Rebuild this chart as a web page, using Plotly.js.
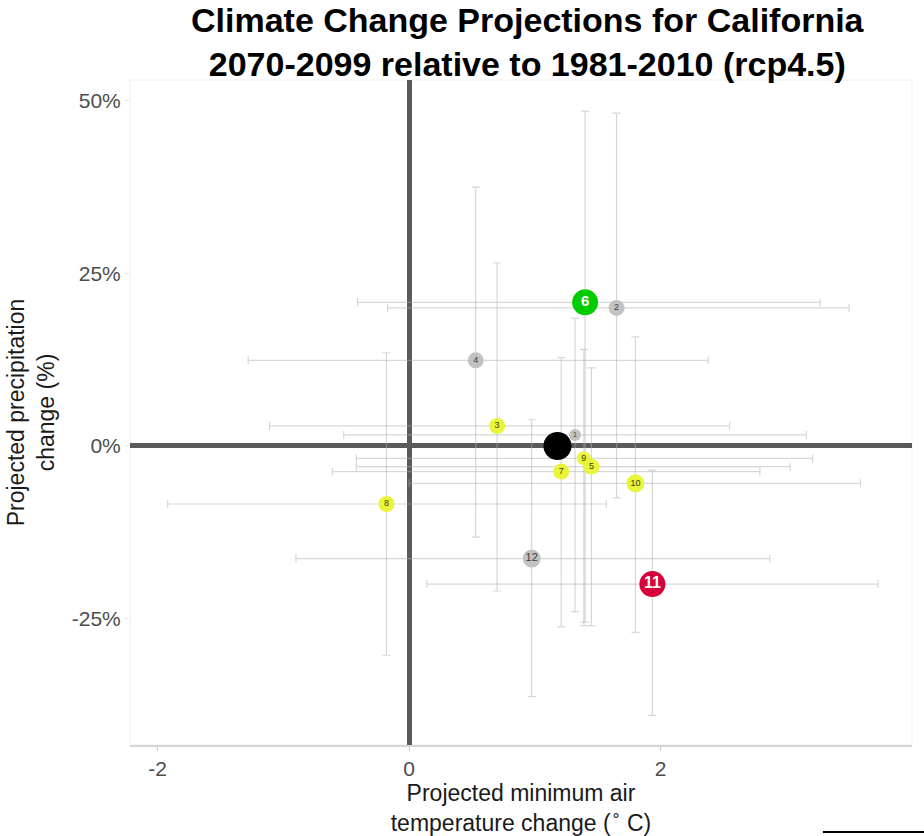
<!DOCTYPE html>
<html>
<head>
<meta charset="utf-8">
<script src="https://cdn.plot.ly/plotly-3.0.1.min.js"></script>
<style>
  html, body { margin: 0; padding: 0; background: #ffffff; }
  #chart { width: 924px; height: 836px; }
</style>
</head>
<body>
<div id="chart"></div>
<script>
// Model numbers shown inside each marker
const models = ['1', '2', '3', '4', '5', '6', '7', '8', '9', '10', '11', '12'];

// Projected change in minimum air temperature (°C), 2070-2099 vs 1981-2010
const tempChange = [1.32, 1.65, 0.70, 0.53, 1.45, 1.40, 1.21, -0.18, 1.39, 1.80, 1.935, 0.975];
const tempLow    = [-0.52, -0.17, -1.11, -1.28, -0.42, -0.41, -0.61, -1.92, -0.42, 0.00, 0.14, -0.90];
const tempHigh   = [3.16, 3.50, 2.55, 2.38, 3.03, 3.27, 2.79, 1.57, 3.21, 3.59, 3.73, 2.87];

// Projected change in precipitation (%)
const precipChange = [1.6, 20.0, 2.9, 12.4, -3.0, 20.8, -3.7, -8.4, -1.8, -5.4, -20.0, -16.3];
const precipLow    = [-24.0, -7.5, -21.0, -13.2, -26.0, -25.5, -26.2, -30.3, -26.0, -27.0, -39.0, -36.3];
const precipHigh   = [18.5, 48.2, 26.5, 37.5, 11.3, 48.5, 12.8, 13.5, 14.0, 15.8, -3.5, 3.8];

// Model group: 'wet' / 'dry' highlight, 'mid' agreeing models, 'other'
const modelGroup = ['other', 'other', 'mid', 'other', 'mid', 'wet', 'mid', 'mid', 'mid', 'mid', 'dry', 'other'];

// Multi-model ensemble mean
const ensembleTemp = [1.18];
const ensemblePrecip = [0.0];

// Axis ticks
const xTicks = [-2, 0, 2];
const yTicks = [-25, 0, 25, 50];
const yTickLabels = ['-25%', '0%', '25%', '50%'];

// Styling per group
const groupStyle = {
  wet:   { fill: '#00CC00', text: '#ffffff', size: 26, font: 15, bold: true },
  dry:   { fill: '#D6003A', text: '#ffffff', size: 26, font: 16, bold: true },
  mid:   { fill: '#E8F53A', text: '#3a3a00', size: 16, font: 9,  bold: false },
  other: { fill: '#C2C2C2', text: '#3c3c3c', size: 16, font: 9,  bold: false }
};
const sizeOverride = { '1': 12, '9': 14, '10': 18, '12': 18 };

const fills = modelGroup.map(g => groupStyle[g].fill);
const textColors = modelGroup.map(g => groupStyle[g].text);
const sizes = models.map((m, i) => sizeOverride[m] || groupStyle[modelGroup[i]].size);
const fontSizes = models.map((m, i) => m === '1' ? 7 : (m === '12' ? 11 : groupStyle[modelGroup[i]].font));
const labelTemplates = modelGroup.map(g => groupStyle[g].bold ? '<b>%{text}</b>' : '%{text}');

const barColor = 'rgba(175,175,175,0.5)';

// Ranges across ensemble members, drawn as cross-hair error bars
const rangeTrace = {
  type: 'scatter',
  mode: 'markers',
  x: tempChange,
  y: precipChange,
  marker: { size: 1, opacity: 0 },
  hoverinfo: 'skip',
  showlegend: false,
  error_x: {
    type: 'data', symmetric: false,
    array: tempHigh.map((h, i) => h - tempChange[i]),
    arrayminus: tempLow.map((l, i) => tempChange[i] - l),
    color: barColor, thickness: 1.2, width: 4
  },
  error_y: {
    type: 'data', symmetric: false,
    array: precipHigh.map((h, i) => h - precipChange[i]),
    arrayminus: precipLow.map((l, i) => precipChange[i] - l),
    color: barColor, thickness: 1.2, width: 4
  }
};

const modelTrace = {
  type: 'scatter',
  mode: 'markers+text',
  x: tempChange,
  y: precipChange,
  text: models,
  texttemplate: labelTemplates,
  textposition: 'middle center',
  textfont: { family: 'Liberation Sans, Arial, sans-serif', color: textColors, size: fontSizes },
  marker: { color: fills, size: sizes, opacity: 1, line: { width: 0 } },
  showlegend: false,
  hovertemplate: 'Model %{text}<br>%{x:.2f} °C, %{y:.1f}%<extra></extra>'
};

const ensembleTrace = {
  type: 'scatter',
  mode: 'markers',
  x: ensembleTemp,
  y: ensemblePrecip,
  marker: { color: '#000000', size: 28, opacity: 1, line: { width: 0 } },
  showlegend: false,
  hovertemplate: 'Ensemble mean<br>%{x:.2f} °C, %{y:.1f}%<extra></extra>'
};

const layout = {
  width: 924,
  height: 836,
  margin: { l: 130, r: 12, t: 80, b: 91 },
  paper_bgcolor: '#ffffff',
  plot_bgcolor: '#ffffff',
  font: { family: 'Liberation Sans, Arial, sans-serif', color: '#000000' },
  title: {
    text: '<b>Climate Change Projections for California<br>2070-2099 relative to 1981-2010 (rcp4.5)</b>',
    font: { size: 34, color: '#000000', family: 'Liberation Sans, Arial, sans-serif' },
    x: 0.508, xref: 'paper', xanchor: 'center',
    y: 0.962, yref: 'container', yanchor: 'middle'
  },
  xaxis: {
    range: [-2.22, 4.0],
    tickvals: xTicks,
    ticktext: xTicks.map(String),
    tickfont: { size: 21, color: '#4d4d4d' },
    ticks: 'outside', ticklen: 4, tickcolor: '#cccccc',
    showgrid: false,
    zeroline: true, zerolinecolor: '#5a5a5a', zerolinewidth: 5,
    showline: true, linecolor: '#d6d6d6', linewidth: 1.5, mirror: false,
    title: {
      text: 'Projected minimum air<br>temperature change (<sup>∘</sup> C)',
      font: { size: 23, color: '#1a1a1a' },
      standoff: 0
    }
  },
  yaxis: {
    range: [-43.3, 53.0],
    tickvals: yTicks,
    ticktext: yTickLabels,
    tickfont: { size: 21, color: '#4d4d4d' },
    ticks: 'outside', ticklen: 4, tickcolor: '#e6e6e6',
    showgrid: false,
    zeroline: true, zerolinecolor: '#5a5a5a', zerolinewidth: 5,
    showline: false,
    title: {
      text: 'Projected precipitation<br>change (%)',
      font: { size: 23, color: '#1a1a1a' },
      standoff: 10
    }
  },
  shapes: [
    {
      type: 'rect', xref: 'paper', yref: 'paper',
      x0: 0, x1: 1, y0: 0, y1: 1,
      line: { color: '#f0f0f0', width: 1 }, layer: 'below'
    },
    {
      type: 'line', xref: 'paper', yref: 'paper',
      x0: 0.886, x1: 1.02, y0: -0.131, y1: -0.131,
      line: { color: '#000000', width: 2 }
    }
  ]
};

Plotly.newPlot('chart', [rangeTrace, modelTrace, ensembleTrace], layout, { displayModeBar: false, staticPlot: true });
</script>
</body>
</html>
